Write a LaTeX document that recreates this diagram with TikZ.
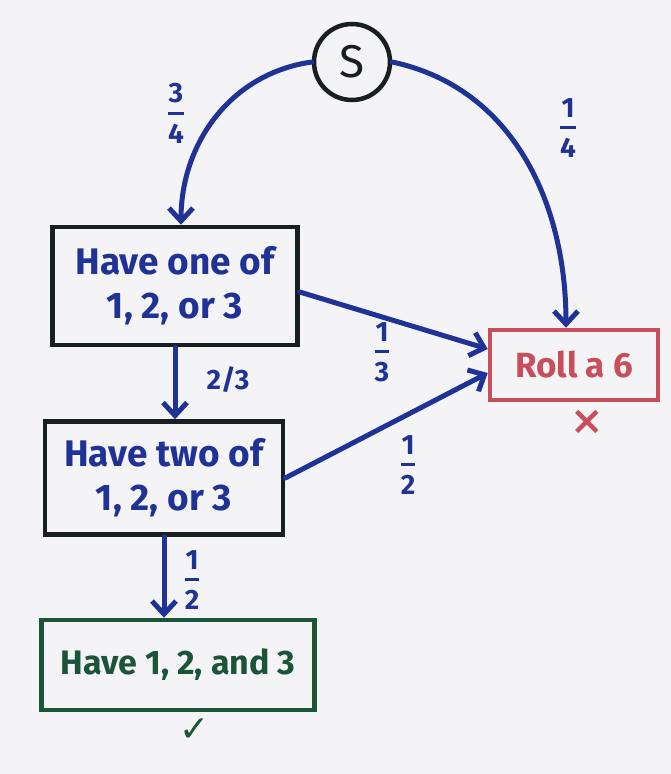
\documentclass[tikz,border=0pt]{standalone}
\usepackage{fontspec}
\setmainfont{Fira Sans}
\newfontfamily\symfont{DejaVu Sans}
\usetikzlibrary{arrows.meta}
\definecolor{ink}{RGB}{32,50,150}
\definecolor{boxblack}{RGB}{25,30,32}
\definecolor{redink}{RGB}{200,78,92}
\definecolor{greenink}{RGB}{28,84,58}
\definecolor{paper}{RGB}{244,244,247}
\newcommand{\hfr}[2]{$\displaystyle{\hbox{#1}\above 3pt\hbox{#2}}$}
\begin{document}
\begin{tikzpicture}[x=1pt,y=-1pt,
  box/.style={draw=boxblack, line width=4.5pt, inner sep=0pt, align=center,
    text=ink, font=\fontsize{37}{44}\selectfont\bfseries},
  link/.style={draw=ink, line width=5pt, line cap=round,
    -{Straight Barb[length=13pt,width=24pt,line width=5pt]}},
  prob/.style={text=ink, inner sep=0pt, font=\fontsize{28}{30}\selectfont\bfseries}]
\fill[paper] (0,0) rectangle (671,774);
\useasboundingbox (0,0) rectangle (671,774);

\node[circle, draw=boxblack, line width=4.5pt, minimum size=76pt, inner sep=0pt,
  font=\fontsize{46}{46}\selectfont, text=boxblack] (S) at (352,62) {S};
\node[box, minimum width=245pt, minimum height=118pt] (b1) at (175,286) {Have one of\\1, 2, or 3};
\node[box, minimum width=238pt, minimum height=113pt] (b2) at (164,478) {Have two of\\1, 2, or 3};
\node[box, draw=greenink, text=greenink, minimum width=273pt, minimum height=90pt,
  font=\fontsize{34}{40}\selectfont\bfseries] (b3) at (178,665) {Have 1, 2, and 3};
\node[box, draw=redink, text=redink, minimum width=168pt, minimum height=70pt,
  font=\fontsize{35}{40}\selectfont\bfseries] (roll) at (574,365) {Roll a 6};

\coordinate (r1) at ([yshift=16pt]roll.west);
\coordinate (r2) at ([yshift=-8pt]roll.west);

\draw[link] (S.west) to[out=188,in=90] ([xshift=6pt]b1.north);
\draw[link] (S.east) to[out=-12,in=90] ([xshift=-8pt]roll.north);
\draw[link] ([yshift=-6pt]b1.east) -- (r1);
\draw[link] (b2.east) -- (r2);
\draw[link] (b1.south) -- (b1.south |- b2.north);
\draw[link] (b2.south) -- (b2.south |- b3.north);

\node[prob] (p34) at (176,113) {\hfr{3}{4}};
\node[prob] (p14) at (568,128) {\hfr{1}{4}};
\node[prob] (p13) at (382,352) {\hfr{1}{3}};
\node[prob] (p23) at (228,380) {2/3};
\node[prob] (p12a) at (408,465) {\hfr{1}{2}};
\node[prob] (p12b) at (192,580) {\hfr{1}{2}};

\node[text=redink, font=\symfont\bfseries\fontsize{40}{40}\selectfont] (x) at (587,422) {×};
\node[text=greenink, font=\symfont\bfseries\fontsize{36}{36}\selectfont] (ok) at (195,730) {✓};
\end{tikzpicture}
\end{document}
